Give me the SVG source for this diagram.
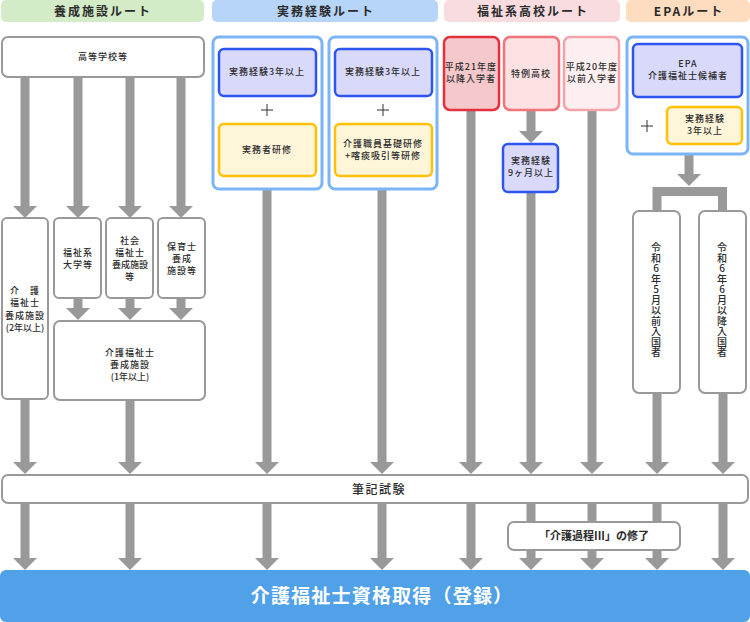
<svg xmlns="http://www.w3.org/2000/svg" width="750" height="622" viewBox="0 0 750 622">
<defs>
<style>
text{font-family:"Noto Sans CJK JP","Noto Sans",sans-serif;fill:#2b2b2b;text-anchor:middle}
.s{font-size:9px;letter-spacing:1px;font-weight:500}
.h{font-size:12px;font-weight:bold;letter-spacing:2px}
.v{font-size:10px;font-weight:500;writing-mode:vertical-rl;text-orientation:upright;letter-spacing:0.5px}
.g{fill:#fff;stroke:#999;stroke-width:2}
.c{fill:#fff;stroke:#7cb5f5;stroke-width:3}
.b{fill:#d9d9fb;stroke:#2d55f2;stroke-width:2.5}
.y{fill:#fff5d9;stroke:#ffc107;stroke-width:2.5}
.ln{stroke:#999;stroke-width:9;fill:none}
.plus{stroke:#333;stroke-width:1;fill:none}
</style>
<marker id="ah" markerUnits="userSpaceOnUse" markerWidth="24" markerHeight="12" refX="12" refY="0" orient="0" overflow="visible">
<path d="M0,0 L24,0 L12,12 Z" fill="#999"/>
</marker>
</defs>
<rect width="750" height="622" fill="#fff"/>

<g id="headers">
<rect x="1" y="0" width="203" height="22" rx="5" fill="#d3ecc7"/>
<text class="h" x="103" y="16">養成施設ルート</text>
<rect x="212" y="0" width="226" height="22" rx="5" fill="#b7d5f9"/>
<text class="h" x="326" y="16">実務経験ルート</text>
<rect x="444" y="0" width="176" height="22" rx="5" fill="#f9dce0"/>
<text class="h" x="533" y="16">福祉系高校ルート</text>
<rect x="626" y="0" width="124" height="22" rx="5" fill="#fddcbf"/>
<text class="h" x="689" y="16">EPAルート</text>
</g>

<g id="connectors">
<line class="ln" x1="25" y1="77" x2="25" y2="206" marker-end="url(#ah)"/>
<line class="ln" x1="78" y1="77" x2="78" y2="206" marker-end="url(#ah)"/>
<line class="ln" x1="130" y1="77" x2="130" y2="206" marker-end="url(#ah)"/>
<line class="ln" x1="181" y1="77" x2="181" y2="206" marker-end="url(#ah)"/>
<line class="ln" x1="78" y1="298" x2="78" y2="308" marker-end="url(#ah)"/>
<line class="ln" x1="130" y1="298" x2="130" y2="308" marker-end="url(#ah)"/>
<line class="ln" x1="181" y1="298" x2="181" y2="308" marker-end="url(#ah)"/>
<line class="ln" x1="25" y1="399" x2="25" y2="462" marker-end="url(#ah)"/>
<line class="ln" x1="130" y1="400" x2="130" y2="462" marker-end="url(#ah)"/>
<line class="ln" x1="267" y1="189" x2="267" y2="462" marker-end="url(#ah)"/>
<line class="ln" x1="382" y1="189" x2="382" y2="462" marker-end="url(#ah)"/>
<line class="ln" x1="471" y1="110" x2="471" y2="462" marker-end="url(#ah)"/>
<line class="ln" x1="531" y1="110" x2="531" y2="131" marker-end="url(#ah)"/>
<line class="ln" x1="531" y1="192" x2="531" y2="462" marker-end="url(#ah)"/>
<line class="ln" x1="592" y1="110" x2="592" y2="462" marker-end="url(#ah)"/>
<line class="ln" x1="689" y1="154" x2="689" y2="174" marker-end="url(#ah)"/>
<path class="ln" d="M657,212 V191.5 H722.5 V212"/>
<line class="ln" x1="657" y1="393" x2="657" y2="462" marker-end="url(#ah)"/>
<line class="ln" x1="723" y1="393" x2="723" y2="462" marker-end="url(#ah)"/>
<line class="ln" x1="25" y1="503" x2="25" y2="558" marker-end="url(#ah)"/>
<line class="ln" x1="130" y1="503" x2="130" y2="558" marker-end="url(#ah)"/>
<line class="ln" x1="267" y1="503" x2="267" y2="558" marker-end="url(#ah)"/>
<line class="ln" x1="382" y1="503" x2="382" y2="558" marker-end="url(#ah)"/>
<line class="ln" x1="471" y1="503" x2="471" y2="558" marker-end="url(#ah)"/>
<line class="ln" x1="531" y1="503" x2="531" y2="558" marker-end="url(#ah)"/>
<line class="ln" x1="592" y1="503" x2="592" y2="558" marker-end="url(#ah)"/>
<line class="ln" x1="657" y1="503" x2="657" y2="558" marker-end="url(#ah)"/>
<line class="ln" x1="723" y1="503" x2="723" y2="558" marker-end="url(#ah)"/>
</g>

<g id="koutou">
<rect class="g" x="2" y="37" width="202" height="40" rx="6"/>
<text class="s" x="103" y="60">高等学校等</text>
</g>

<g id="yousei2">
<rect class="g" x="2" y="218" width="46" height="181" rx="5"/>
<text class="s" x="25"><tspan x="25" y="294">介　護</tspan><tspan x="25" y="306">福祉士</tspan><tspan x="25" y="319">養成施設</tspan><tspan x="25" y="331" letter-spacing="0">(2年以上)</tspan></text>
</g>
<g id="fukushi-daigaku">
<rect class="g" x="54" y="218" width="47" height="80" rx="5"/>
<text class="s"><tspan x="78" y="256">福祉系</tspan><tspan x="78" y="268">大学等</tspan></text>
</g>
<g id="shakai">
<rect class="g" x="106" y="218" width="47" height="80" rx="5"/>
<text class="s"><tspan x="130" y="244">社会</tspan><tspan x="130" y="256">福祉士</tspan><tspan x="130" y="268" letter-spacing="0">養成施設</tspan><tspan x="130" y="280">等</tspan></text>
</g>
<g id="hoiku">
<rect class="g" x="158" y="218" width="47" height="80" rx="5"/>
<text class="s"><tspan x="182" y="250">保育士</tspan><tspan x="182" y="262">養成</tspan><tspan x="182" y="274">施設等</tspan></text>
</g>
<g id="yousei1">
<rect class="g" x="54" y="321" width="151" height="79" rx="6"/>
<text class="s"><tspan x="130" y="356">介護福祉士</tspan><tspan x="130" y="368">養成施設</tspan><tspan x="130" y="380" letter-spacing="0">(1年以上)</tspan></text>
</g>

<g id="jitsumu1">
<rect class="c" x="213" y="37" width="109" height="152" rx="6"/>
<rect class="b" x="219" y="49" width="97" height="47" rx="5"/>
<text class="s" x="267" y="75" letter-spacing="0.5">実務経験3年以上</text>
<path class="plus" d="M261,110 H273 M267,104 V116"/>
<rect class="y" x="219" y="124" width="97" height="52" rx="5"/>
<text class="s" x="267" y="153">実務者研修</text>
</g>
<g id="jitsumu2">
<rect class="c" x="329" y="37" width="108" height="152" rx="6"/>
<rect class="b" x="335" y="49" width="97" height="47" rx="5"/>
<text class="s" x="383" y="75" letter-spacing="0.5">実務経験3年以上</text>
<path class="plus" d="M377,110 H389 M383,104 V116"/>
<rect class="y" x="335" y="124" width="97" height="52" rx="5"/>
<text class="s" letter-spacing="0.5"><tspan x="383" y="147">介護職員基礎研修</tspan><tspan x="383" y="159">+喀痰吸引等研修</tspan></text>
</g>

<g id="h21">
<rect x="444" y="37" width="55" height="73" rx="6" fill="#f5c8cc" stroke="#e3323e" stroke-width="2.5"/>
<text class="s" letter-spacing="0.3"><tspan x="471" y="70">平成21年度</tspan><tspan x="471" y="82">以降入学者</tspan></text>
</g>
<g id="tokurei">
<rect x="504" y="37" width="55" height="73" rx="6" fill="#fde1e3" stroke="#f27478" stroke-width="2.5"/>
<text class="s" x="531" y="77">特例高校</text>
</g>
<g id="h20">
<rect x="564" y="37" width="55" height="73" rx="6" fill="#fdeef0" stroke="#f5a3aa" stroke-width="2.5"/>
<text class="s" letter-spacing="0.3"><tspan x="592" y="70">平成20年度</tspan><tspan x="592" y="82">以前入学者</tspan></text>
</g>
<g id="jitsumu9">
<rect class="b" x="503" y="144" width="55" height="48" rx="5"/>
<text class="s"><tspan x="531" y="164">実務経験</tspan><tspan x="531" y="176">9ヶ月以上</tspan></text>
</g>

<g id="epa">
<rect class="c" x="627" y="37" width="121" height="117" rx="6"/>
<rect class="b" x="633" y="44" width="109" height="53" rx="5"/>
<text class="s"><tspan x="688" y="67">EPA</tspan><tspan x="688" y="79">介護福祉士候補者</tspan></text>
<path class="plus" d="M641,126 H653 M647,120 V132"/>
<rect class="y" x="667" y="107" width="75" height="37" rx="5"/>
<text class="s"><tspan x="705" y="122">実務経験</tspan><tspan x="705" y="134">3年以上</tspan></text>
</g>
<g id="reiwa5">
<rect class="g" x="633" y="211" width="47" height="182" rx="6"/>
<text class="v" x="656" y="300">令和6年5月以前入国者</text>
</g>
<g id="reiwa6">
<rect class="g" x="699" y="211" width="47" height="182" rx="6"/>
<text class="v" x="722" y="300">令和6年6月以降入国者</text>
</g>

<g id="hikki">
<rect class="g" x="2" y="475" width="746" height="28" rx="6"/>
<text x="379" y="494" style="font-size:12px;letter-spacing:1.5px;font-weight:500">筆記試験</text>
</g>
<g id="kaigo-katei">
<rect class="g" x="508" y="522" width="172" height="28" rx="6"/>
<text x="594" y="540" style="font-size:11px;font-weight:bold">「介護過程III」の修了</text>
</g>
<g id="shikaku">
<rect x="0" y="570" width="750" height="52" rx="6" fill="#51a1e9"/>
<text x="382" y="603" style="font-size:19px;font-weight:bold;letter-spacing:1.2px;fill:#fff">介護福祉士資格取得（登録）</text>
</g>
</svg>
